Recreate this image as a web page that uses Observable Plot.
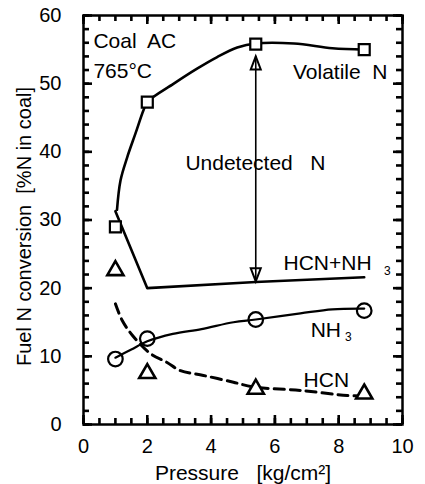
<!DOCTYPE html>
<html>
<head>
<meta charset="utf-8">
<script src="https://cdn.jsdelivr.net/npm/d3@7"></script>
<script src="https://cdn.jsdelivr.net/npm/@observablehq/plot@0.6"></script>
<style>
  html, body { margin: 0; padding: 0; background: #fff; }
  #chart svg { display: block; }
</style>
</head>
<body>
<div id="chart"></div>
<script>
// Measured points (pressure in kg/cm², conversion in % N in coal)
const pressure = [1, 2, 5.4, 8.8];
const volatileN = [29, 47.3, 55.8, 55.0];
const nh3 = [9.6, 12.6, 15.4, 16.7];
const hcn = [22.6, 7.5, 5.2, 4.5];
const hcnPlusNh3 = [31.3, 20.0, 20.9, 21.6];

// Hand-drawn trend curves
const volCurveP = [1.05, 1.16, 1.37, 1.63, 1.88, 2.0, 2.83, 3.56, 4.19, 4.82, 5.4, 6.6, 7.8, 8.8];
const volCurveV = [31.5, 35.8, 39.2, 42.7, 46.1, 47.3, 50.0, 52.2, 53.9, 55.3, 55.9, 55.9, 55.2, 55.0];
const nh3CurveP = [1, 1.5, 2, 2.8, 3.7, 4.7, 5.4, 6.8, 7.8, 8.8];
const nh3CurveV = [9.8, 11.0, 12.2, 13.3, 14.0, 15.0, 15.4, 16.3, 16.9, 17.0];
const hcnCurveP = [1, 1.21, 1.53, 2.1, 2.62, 3.04, 3.76, 4.7, 5.33, 6.8, 8.27, 8.8];
const hcnCurveV = [17.7, 15.3, 13.1, 10.4, 9.1, 7.9, 7.2, 6.2, 5.5, 5.0, 4.25, 4.2];

// "Undetected N" double arrow
const arrowX = [5.4];
const arrowFrom = [21.0];
const arrowTo = [54.0];

// Axis domains and tick values
const xDomain = [0, 10];
const yDomain = [0, 60];
const xTickLabels = [0, 2, 4, 6, 8, 10];
const xMinorTicks = d3.range(0, 10.01, 0.5);
const yTickLabels = [0, 10, 20, 30, 40, 50, 60];
const yMinorTicks = d3.range(0, 60.1, 2);

// Annotations
const notesStart = [
  {text: "Coal\u00a0 AC", x: 0.31, y: 55.2},
  {text: "765°C", x: 0.31, y: 50.9},
  {text: "HCN+NH", x: 6.27, y: 22.6},
  {text: "NH", x: 7.12, y: 12.8},
  {text: "HCN", x: 6.9, y: 5.43}
];
const notesEnd = [
  {text: "Volatile\u00a0 N", x: 9.53, y: 50.75}
];
const notesMiddle = [
  {text: "Undetected\u00a0\u00a0 N", x: 5.39, y: 37.3}
];
const subs = [
  {text: "3", x: 9.42, y: 21.9},
  {text: "3", x: 8.2, y: 12.2}
];

const pts = (xs, ys) => xs.map((x, i) => ({x, y: ys[i]}));

const headUp = {draw(ctx) { ctx.moveTo(0, 0); ctx.lineTo(5, 13); ctx.lineTo(-5, 13); ctx.closePath(); }};
const headDown = {draw(ctx) { ctx.moveTo(0, 0); ctx.lineTo(5, -13); ctx.lineTo(-5, -13); ctx.closePath(); }};

const arrows = arrowX.map((x, i) => ({x, y1: arrowFrom[i], y2: arrowTo[i]}));

const W = 425, H = 484, mL = 83, mR = 23, mT = 15, mB = 60;
const fw = W - mL - mR, fh = H - mT - mB;
// tick length in pixels converted to data units
const xPerPx = (xDomain[1] - xDomain[0]) / fw;
const yPerPx = (yDomain[1] - yDomain[0]) / fh;
const tickRows = (vals, len) => vals.map(v => ({v, len}));
const xTicks = [...tickRows(xMinorTicks, 6), ...tickRows(xTickLabels, 9)];
const yTicks = [...tickRows(yMinorTicks, 6), ...tickRows(yTickLabels, 9)];
const tw = 2.6;

const chart = Plot.plot({
  width: W,
  height: H,
  marginLeft: mL,
  marginRight: mR,
  marginTop: mT,
  marginBottom: mB,
  x: {domain: xDomain},
  y: {domain: yDomain},
  style: {fontFamily: "'Liberation Sans', Arial, Helvetica, sans-serif", fontSize: "20px", background: "white", color: "black"},
  marks: [
    Plot.frame({fill: "none", stroke: "black", strokeWidth: 2.5}),
    // inward ticks on all four sides
    Plot.ruleX(xTicks, {x: "v", y1: () => yDomain[0], y2: d => yDomain[0] + d.len * yPerPx, stroke: "black", strokeWidth: tw}),
    Plot.ruleX(xTicks, {x: "v", y1: () => yDomain[1], y2: d => yDomain[1] - d.len * yPerPx, stroke: "black", strokeWidth: tw}),
    Plot.ruleY(yTicks, {y: "v", x1: () => xDomain[0], x2: d => xDomain[0] + d.len * xPerPx, stroke: "black", strokeWidth: tw}),
    Plot.ruleY(yTicks, {y: "v", x1: () => xDomain[1], x2: d => xDomain[1] - d.len * xPerPx, stroke: "black", strokeWidth: tw}),
    // tick labels
    Plot.axisX(xTickLabels, {anchor: "bottom", tickSize: 0, tickPadding: 14, fontSize: 20, label: null}),
    Plot.axisY(yTickLabels, {anchor: "left", tickSize: 0, tickPadding: 22, fontSize: 20, label: null}),
    // axis titles
    Plot.text(["Pressure\u00a0\u00a0 [kg/cm²]"], {frameAnchor: "bottom", textAnchor: "middle", dy: 55, lineAnchor: "bottom", fontSize: 21}),
    Plot.text(["Fuel N conversion\u00a0 [%N in coal]"], {frameAnchor: "left", textAnchor: "middle", rotate: -90, dx: -59, dy: 6.5, lineAnchor: "middle", fontSize: 20}),
    // curves
    Plot.line(pts(volCurveP, volCurveV), {x: "x", y: "y", curve: "catmull-rom", strokeWidth: 2.6}),
    Plot.line(pts(pressure, hcnPlusNh3), {x: "x", y: "y", strokeWidth: 2.6}),
    Plot.line(pts(nh3CurveP, nh3CurveV), {x: "x", y: "y", curve: "catmull-rom", strokeWidth: 2.2}),
    Plot.line(pts(hcnCurveP, hcnCurveV), {x: "x", y: "y", curve: "catmull-rom", strokeWidth: 3, strokeDasharray: "10,6"}),
    // annotations
    Plot.text(notesStart, {x: "x", y: "y", text: "text", textAnchor: "start", lineAnchor: "bottom", fontSize: 21}),
    Plot.text(notesEnd, {x: "x", y: "y", text: "text", textAnchor: "end", lineAnchor: "bottom", fontSize: 21}),
    Plot.text(notesMiddle, {x: "x", y: "y", text: "text", textAnchor: "middle", lineAnchor: "bottom", fontSize: 21}),
    Plot.text(subs, {x: "x", y: "y", text: "text", textAnchor: "start", lineAnchor: "bottom", fontSize: 12}),
    // arrow
    Plot.dot(arrows, {x: "x", y: "y2", symbol: headUp, fill: "white", stroke: "black", strokeWidth: 2}),
    Plot.dot(arrows, {x: "x", y: "y1", symbol: headDown, fill: "white", stroke: "black", strokeWidth: 2}),
    Plot.ruleX(arrows, {x: "x", y1: "y1", y2: "y2", strokeWidth: 1.6}),
    // markers
    Plot.dot(pts(pressure, volatileN), {x: "x", y: "y", symbol: "square", r: 6.2, fill: "white", stroke: "black", strokeWidth: 2.2}),
    Plot.dot(pts(pressure, nh3), {x: "x", y: "y", symbol: "circle", r: 7.3, fill: "none", stroke: "black", strokeWidth: 2.2}),
    Plot.dot(pts(pressure, hcn), {x: "x", y: "y", symbol: "triangle", r: 6, fill: "white", stroke: "black", strokeWidth: 2.6})
  ]
});
document.getElementById("chart").appendChild(chart);
</script>
</body>
</html>
